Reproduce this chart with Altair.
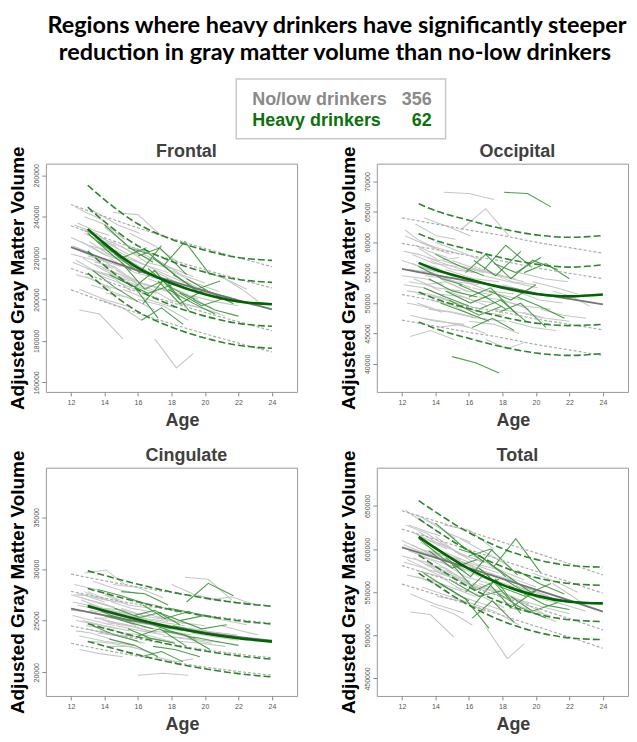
import altair as alt
import pandas as pd

# ---------------- text ----------------
TITLE_LINES = ["Regions where heavy drinkers have significantly steeper",
               "reduction in gray matter volume than no-low drinkers"]
LEGEND_LABELS = ["No/low drinkers", "Heavy drinkers"]
LEGEND_COUNTS = [356, 62]
X_TITLE = "Age"
Y_TITLE = "Adjusted Gray Matter Volume"

AGE_TICKS = [12, 14, 16, 18, 20, 22, 24]
GRAY_CURVE_AGES = [12, 14, 16, 18, 20, 22, 24]
GREEN_CURVE_AGES = [13, 14, 16, 18, 20, 22, 24]

# ---------------- subjects (visit ages) ----------------
GRAY_AGES = [
    [12.0, 13.1, 14.2], [12.1, 13.3, 14.6], [12.2, 13.5, 14.9], [12.3, 13.2, 14.4],
    [12.4, 13.8, 15.0], [12.5, 13.7, 15.1], [12.6, 13.9, 15.3], [12.7, 14.0, 15.5],
    [12.8, 14.1, 15.2], [12.9, 14.3, 15.6], [13.0, 14.2, 15.4], [13.1, 14.5, 15.8],
    [13.2, 14.4, 16.0], [13.3, 14.8, 16.1], [13.4, 14.6, 15.9], [13.5, 15.0, 16.3],
    [13.6, 14.9, 16.4], [13.8, 15.2, 16.6], [14.0, 15.4, 16.8], [14.1, 15.5, 17.0],
    [14.3, 15.8, 17.2], [14.5, 16.0, 17.5], [14.7, 16.2, 17.6], [15.0, 16.5, 18.0],
    [15.2, 16.8, 18.1], [15.5, 17.0, 18.4], [15.8, 17.2, 18.7], [16.0, 17.5, 19.0],
    [16.3, 17.8, 19.3], [16.6, 18.0, 19.6], [17.0, 18.3, 19.3], [17.2, 18.6, 20.0],
    [17.5, 19.0, 20.4], [18.0, 19.4, 20.8], [18.4, 19.8, 21.2], [18.8, 20.2, 21.6],
    [19.2, 20.6, 22.0], [19.8, 21.2, 22.5], [20.3, 21.6, 23.0], [12.2, 12.9, 14.0],
    [12.5, 14.0, 15.7], [13.0, 13.9, 15.0], [12.8, 13.6, 14.7], [13.7, 15.1, 16.2],
    [14.4, 15.6, 16.9], [21.0, 22.2, 23.2], [12.0, 13.4, 14.5], [13.9, 15.3, 16.7],
    [12.1, 13.0, 14.1], [12.3, 13.6, 14.8], [12.6, 13.4, 14.6], [12.9, 14.0, 15.1],
    [13.1, 14.2, 15.5], [13.4, 14.7, 16.1], [13.7, 15.0, 16.5], [14.2, 15.7, 17.1],
    [14.6, 16.3, 17.8], [15.1, 16.6, 18.2], [15.6, 17.1, 18.8], [16.2, 17.7, 19.2],
    [16.9, 18.4, 20.1], [17.8, 19.3, 20.9], [19.0, 20.5, 21.9], [12.4, 13.5, 14.3],
]
GREEN_AGES = [
    [13.0, 14.4, 15.6], [13.3, 14.6, 16.0], [13.6, 15.0, 16.5], [14.0, 15.5, 16.9],
    [14.3, 15.8, 17.2], [14.6, 16.1, 17.4], [15.0, 16.4, 17.8], [15.4, 16.7, 18.2],
    [15.8, 17.0, 18.5], [16.0, 17.3, 18.9], [16.3, 17.6, 19.1], [16.6, 17.9, 19.4],
    [16.9, 18.2, 19.7], [17.2, 18.5, 20.0], [17.5, 18.8, 20.3], [17.8, 19.1, 20.6],
    [18.1, 19.5, 20.9], [18.5, 19.8, 21.3], [18.9, 20.2, 21.7], [19.3, 20.6, 22.0],
    [16.2, 17.4, 18.7], [14.8, 16.6, 18.0],
]

# ---------------- Frontal (thousands) ----------------
FRONTAL_GRAY = [
    [230, 226, 221], [218, 214, 210], [236, 232, 224], [212, 210, 205], [224, 219, 216],
    [195, 193, 181], [228, 222, 218], [220, 214, 209], [240, 236, 229], [215, 212, 204],
    [233, 227, 222], [226, 223, 214], [207, 204, 199], [243, 236, 232], [218, 216, 208],
    [229, 221, 217], [212, 208, 203], [224, 218, 212], [235, 226, 222], [203, 201, 195],
    [220, 213, 210], [242, 241, 230], [214, 208, 205], [226, 218, 215], [209, 205, 199],
    [232, 226, 218], [217, 211, 207], [200, 197, 190], [222, 216, 211], [210, 206, 200],
    [181, 167, 174], [219, 212, 208], [205, 202, 196], [214, 208, 204], [198, 196, 192],
    [209, 203, 201], [202, 199, 197], [214, 210, 205], [203, 200, 197], [245, 242, 238],
    [205, 200, 196], [221, 219, 213], [232, 229, 226], [200, 196, 190], [228, 223, 219],
    [211, 205, 199], [222, 219, 215], [215, 211, 206],
    [226, 223, 219], [219, 213, 211], [234, 231, 227], [211, 207, 204], [228, 222, 218],
    [217, 213, 207], [225, 221, 214], [213, 207, 203], [224, 217, 213], [205, 200, 196],
    [220, 214, 208], [208, 204, 199], [214, 208, 203], [200, 197, 193], [207, 203, 200],
    [237, 233, 231],
]
FRONTAL_GREEN = [
    [232, 222, 214], [214, 206, 199], [228, 220, 225], [236, 225, 218], [212, 206, 191],
    [222, 213, 226], [218, 205, 210], [225, 222, 212], [206, 214, 200], [221, 225, 212],
    [198, 210, 194], [215, 206, 200], [220, 212, 203], [209, 198, 205], [216, 228, 212],
    [205, 199, 193], [212, 205, 209], [203, 197, 201], [210, 204, 198], [200, 195, 192],
    [190, 196, 188], [210, 203, 207],
]
FRONTAL_GRAY_MEAN = [225.3, 219.5, 214.0, 208.9, 204.1, 199.6, 195.3]
FRONTAL_GRAY_BANDS = [
    [245.9, 240.1, 234.6, 229.5, 224.7, 220.2, 215.9],
    [235.6, 229.8, 224.3, 219.2, 214.4, 209.9, 205.6],
    [215.0, 209.2, 203.7, 198.6, 193.8, 189.3, 185.0],
    [204.7, 198.9, 193.4, 188.3, 183.5, 179.0, 174.7],
]
FRONTAL_GREEN_MEAN = [234.0, 227.0, 215.3, 207.9, 202.6, 199.1, 197.7]
FRONTAL_GREEN_BANDS = [
    [255.2, 248.2, 236.5, 229.1, 223.8, 220.3, 218.9],
    [244.6, 237.6, 225.9, 218.5, 213.2, 209.7, 208.3],
    [223.4, 216.4, 204.7, 197.3, 192.0, 188.5, 187.1],
    [212.8, 205.8, 194.1, 186.7, 181.4, 177.9, 176.5],
]

# ---------------- Occipital (thousands) ----------------
OCCIPITAL_GRAY = [
    [57, 56, 55], [53, 52.5, 51], [61, 59.5, 58], [50, 49.5, 48.5], [55.5, 55, 53.5],
    [44.5, 45.5, 44], [58, 56.5, 56], [54, 52.5, 52], [63, 61, 60.5], [51.5, 51, 49.5],
    [59, 57, 57.5], [56, 55, 53.5], [47.5, 47, 46], [64, 62.5, 61], [53, 53.5, 52],
    [57.5, 56, 55], [49, 48.5, 47.5], [55, 53.5, 53], [60, 58.5, 57], [46, 46.5, 45],
    [54, 52, 51.5], [68.2, 68, 67], [52, 50.5, 50], [57, 55.5, 54.5], [49.5, 48.5, 48],
    [62, 65.5, 61], [53.5, 52, 51.5], [47, 46.5, 45], [56, 54.5, 53.5], [51, 50.5, 49],
    [44, 42.5, 43.5], [55, 53.5, 53], [49, 48.5, 47.5], [53, 52, 51], [47, 46, 45.5],
    [52, 50.5, 50], [48.5, 47.5, 47], [53.5, 52.5, 51.5], [49, 48, 47.5], [62, 60.5, 59],
    [48, 47, 46.5], [56.5, 56, 54.5], [59.5, 58.5, 57.5], [50.5, 49.5, 48], [57, 56, 55],
    [52, 51, 49.5], [54.5, 54, 53], [51, 50, 49],
    [58.5, 58, 57], [52, 51.5, 50.5], [56.5, 55.5, 55], [50, 49, 48.5], [60, 59, 58],
    [54.5, 54, 52.5], [57, 55.5, 55], [51.5, 51, 49.5], [55.5, 54, 53.5], [48.5, 47.5, 47],
    [56, 55, 54], [52.5, 51.5, 50.5], [54.5, 53.5, 52.5], [50.5, 49.5, 49], [55, 54, 53.5],
    [53.5, 53, 52],
]
OCCIPITAL_GREEN = [
    [56, 54, 53], [52.5, 51, 49.5], [54, 52, 51], [58, 56, 54.5], [50, 48.5, 47],
    [52, 50, 51.5], [41.2, 40.2, 38.5], [53, 51.5, 49], [55, 58, 54], [51, 52.5, 48],
    [57, 54.5, 58.5], [49, 50.5, 47], [55.5, 59.5, 56], [52, 50.5, 53], [56.5, 55, 57.5],
    [48.5, 50, 46], [68.2, 68, 65.8], [54, 57, 55.5], [51, 49.5, 47.5], [55, 56.5, 54],
    [46, 47.5, 45.5], [50.5, 48, 49.5],
]
OCCIPITAL_GRAY_MEAN = [55.6, 54.6, 53.6, 52.7, 51.6, 50.7, 49.8]
OCCIPITAL_GRAY_BANDS = [
    [64.0, 63.0, 62.0, 61.1, 60.0, 59.1, 58.2],
    [59.8, 58.8, 57.8, 56.9, 55.8, 54.9, 54.0],
    [51.4, 50.4, 49.4, 48.5, 47.4, 46.5, 45.6],
    [47.2, 46.2, 45.2, 44.3, 43.2, 42.3, 41.4],
]
OCCIPITAL_GREEN_MEAN = [56.6, 55.5, 53.9, 52.5, 51.5, 51.1, 51.4]
OCCIPITAL_GREEN_BANDS = [
    [66.3, 65.2, 63.6, 62.2, 61.2, 60.8, 61.1],
    [61.4, 60.3, 58.8, 57.4, 56.4, 55.9, 56.3],
    [51.8, 50.7, 49.1, 47.7, 46.7, 46.3, 46.5],
    [46.9, 45.8, 44.2, 42.8, 41.8, 41.4, 41.7],
]

# ---------------- Cingulate (thousands) ----------------
CINGULATE_GRAY = [
    [27.5, 27, 26.5], [25.5, 25, 24.5], [28.5, 28, 27], [24, 23.8, 23.2], [26.5, 26, 25.5],
    [22.2, 21.8, 21.5], [27, 26.2, 26], [25, 24.5, 24], [29.6, 29.9, 28.5], [24.5, 24.2, 23.5],
    [27.8, 27, 26.6], [26, 25.6, 24.8], [23, 22.8, 22.3], [28.8, 28, 27.6], [25.2, 25.3, 24.5],
    [26.8, 26, 25.5], [23.8, 23.5, 22.8], [26, 25.3, 24.8], [27.5, 26.5, 26.2], [22.5, 22.5, 21.8],
    [25.5, 24.8, 24.5], [28.5, 28.2, 27.2], [24.5, 24, 23.6], [26.2, 25.4, 25], [23.8, 23.5, 22.9],
    [27, 26.5, 25.8], [25, 24.4, 24], [19.7, 19.9, 19.7], [25.8, 25, 24.6], [24, 23.8, 23.2],
    [21.5, 21, 21.3], [25.4, 24.8, 24.5], [23.5, 23.2, 22.8], [28.5, 27.5, 27], [23, 22.8, 22.5],
    [29.2, 29, 27], [23.8, 23.4, 23.1], [25.5, 25, 24.6], [27, 27.3, 26.5], [27.5, 27.4, 26.8],
    [23.5, 23, 22.6], [26.5, 26.2, 25.6], [27.8, 27.2, 26.8], [24, 23.5, 22.8], [26.8, 26.2, 25.8],
    [24.5, 24, 23.6], [26, 25.8, 25.2], [25, 24.6, 24],
    [26.8, 26.5, 26], [25, 24.6, 24.2], [27.2, 26.8, 26.3], [24.2, 23.8, 23.4], [26.6, 26, 25.6],
    [25.3, 24.8, 24.3], [26.2, 25.8, 25.2], [24.8, 24.4, 23.8], [25.8, 25.2, 24.9], [23.6, 23.3, 22.9],
    [25.4, 24.9, 24.5], [24.4, 24, 23.6], [24.8, 24.4, 24], [23.5, 23.2, 22.9], [24.2, 23.9, 23.6],
    [27.6, 27.2, 26.9],
]
CINGULATE_GREEN = [
    [26.5, 25.5, 24.9], [24.5, 23.6, 23], [28, 27.4, 26.6], [25.5, 24.8, 24.2], [23.2, 22.6, 21.5],
    [26.2, 25.3, 25.8], [27.8, 27.6, 26.5], [24.2, 23.3, 22.8], [25.5, 26, 24.6], [23.5, 24.2, 22.5],
    [26.5, 25.2, 25.9], [24.8, 24, 23.3], [22.5, 22.2, 21.5], [25.8, 25, 25.5], [24, 23.6, 22.2],
    [26.2, 25.8, 25.3], [24.5, 24, 23.5], [25, 24.2, 24.6], [26.8, 28.6, 27.4], [23.4, 23, 22.6],
    [21.5, 22, 21], [25.2, 24.8, 24.2],
]
CINGULATE_GRAY_MEAN = [26.15, 25.5, 24.9, 24.35, 23.85, 23.42, 23.06]
CINGULATE_GRAY_BANDS = [
    [29.5, 28.85, 28.25, 27.7, 27.2, 26.77, 26.41],
    [27.82, 27.17, 26.57, 26.02, 25.52, 25.09, 24.73],
    [24.48, 23.83, 23.23, 22.68, 22.18, 21.75, 21.39],
    [22.8, 22.15, 21.55, 21.0, 20.5, 20.07, 19.71],
]
CINGULATE_GREEN_MEAN = [26.4, 25.95, 25.1, 24.35, 23.75, 23.28, 22.96]
CINGULATE_GREEN_BANDS = [
    [29.82, 29.37, 28.52, 27.77, 27.17, 26.7, 26.38],
    [28.1, 27.65, 26.8, 26.05, 25.45, 24.98, 24.66],
    [24.7, 24.25, 23.4, 22.65, 22.05, 21.58, 21.26],
    [22.98, 22.53, 21.68, 20.93, 20.33, 19.86, 19.54],
]

# ---------------- Total (thousands) ----------------
TOTAL_GRAY = [
    [610, 600, 590], [585, 578, 566], [628, 618, 600], [570, 566, 556], [598, 588, 580],
    [527, 524, 498], [605, 592, 582], [590, 576, 566], [640, 628, 612], [575, 568, 552],
    [620, 606, 596], [600, 592, 574], [556, 548, 538], [635, 618, 608], [582, 578, 562],
    [608, 590, 580], [565, 556, 545], [596, 582, 568], [615, 594, 586], [545, 540, 528],
    [586, 568, 560], [628, 622, 600], [572, 558, 550], [600, 582, 575], [556, 545, 532],
    [612, 596, 580], [580, 566, 556], [538, 528, 512], [592, 576, 564], [560, 550, 536],
    [510, 473, 490], [582, 566, 556], [548, 540, 526], [570, 555, 545], [532, 526, 516],
    [558, 543, 536], [540, 532, 525], [572, 562, 550], [545, 536, 528], [645, 636, 622],
    [548, 536, 526], [592, 586, 572], [618, 610, 600], [535, 525, 512], [606, 594, 584],
    [560, 545, 532], [592, 585, 574], [575, 565, 552],
    [605, 598, 590], [588, 576, 570], [620, 612, 604], [568, 560, 552], [608, 595, 588],
    [582, 574, 562], [598, 590, 576], [572, 562, 550], [596, 582, 572], [548, 538, 528],
    [585, 573, 562], [560, 550, 540], [568, 556, 546], [540, 532, 522], [556, 546, 538],
    [628, 620, 615],
]
TOTAL_GREEN = [
    [612, 590, 575], [572, 556, 540], [598, 578, 588], [630, 605, 585], [560, 542, 508],
    [590, 568, 600], [582, 552, 565], [600, 592, 568], [550, 572, 540], [592, 600, 570],
    [535, 565, 525], [578, 556, 545], [588, 570, 550], [560, 532, 552], [580, 612, 572],
    [548, 532, 520], [565, 548, 560], [545, 528, 538], [575, 560, 548], [548, 535, 530],
    [520, 540, 515], [565, 545, 552],
]
TOTAL_GRAY_MEAN = [601.9, 590.0, 578.0, 565.5, 553.0, 540.5, 527.5]
TOTAL_GRAY_BANDS = [
    [644.4, 632.5, 620.5, 608.0, 595.5, 583.0, 570.0],
    [623.1, 611.2, 599.2, 586.7, 574.2, 561.7, 548.7],
    [580.7, 568.8, 556.8, 544.3, 531.8, 519.3, 506.3],
    [559.4, 547.5, 535.5, 523.0, 510.5, 498.0, 485.0],
]
TOTAL_GREEN_MEAN = [614.1, 601.0, 577.0, 558.5, 546.0, 539.0, 537.0]
TOTAL_GREEN_BANDS = [
    [656.1, 643.0, 619.0, 600.5, 588.0, 581.0, 579.0],
    [635.1, 622.0, 598.0, 579.5, 567.0, 560.0, 558.0],
    [593.1, 580.0, 556.0, 537.5, 525.0, 518.0, 516.0],
    [572.1, 559.0, 535.0, 516.5, 504.0, 497.0, 495.0],
]

Y_DOMAINS = {
    "Frontal": [155400, 265600], "Occipital": [35400, 72900],
    "Cingulate": [17700, 39800], "Total": [429700, 694300],
}
Y_TICKS = {
    "Frontal": [160000, 180000, 200000, 220000, 240000, 260000],
    "Occipital": [40000, 45000, 50000, 55000, 60000, 65000, 70000],
    "Cingulate": [20000, 25000, 30000, 35000],
    "Total": [450000, 500000, 550000, 600000, 650000],
}

GRAY_LINE = "#c6c6c6"
GREEN_LINE = "#3a943a"
GRAY_MEAN_C = "#747474"
GREEN_MEAN_C = "#006400"
GRAY_DASH_C = "#ababab"
GREEN_DASH_C = "#2a862a"
AXIS_FONT = "Liberation Sans"
PW, PH = 252, 229

one = pd.DataFrame({"k": [0]})
hdr = alt.Chart(one)


def traj_df(ages_list, vals_list, prefix):
    rows = []
    for i, (ages, vals) in enumerate(zip(ages_list, vals_list)):
        for a, v in zip(ages, vals):
            rows.append({"id": f"{prefix}{i}", "age": a, "vol": v * 1000})
    return pd.DataFrame(rows)


def curve_df(ages, curves, prefix):
    rows = []
    for i, vals in enumerate(curves):
        for a, v in zip(ages, vals):
            rows.append({"id": f"{prefix}{i}", "age": a, "vol": v * 1000})
    return pd.DataFrame(rows)


def panel(name, gray, green, gmean, gbands, hmean, hbands, extra=()):
    x = alt.X("age:Q", scale=alt.Scale(domain=[10.5, 25.5], nice=False, zero=False),
              axis=alt.Axis(values=AGE_TICKS, title=None, grid=False, domain=False,
                            tickColor="#8a8a8a", tickSize=4, labelFontSize=7,
                            labelColor="#555555", labelFont=AXIS_FONT, labelPadding=3))
    y = alt.Y("vol:Q", scale=alt.Scale(domain=Y_DOMAINS[name], nice=False, zero=False),
              axis=alt.Axis(values=Y_TICKS[name], format="d", title=Y_TITLE,
                            grid=False, domain=False, tickColor="#8a8a8a", tickSize=4,
                            labelFontSize=7, labelColor="#555555", labelFont=AXIS_FONT,
                            labelAngle=270, labelAlign="center", labelBaseline="bottom",
                            labelPadding=2, titleFont=AXIS_FONT, titleFontSize=19,
                            titleFontWeight="bold", titleColor="#000000", titlePadding=5))
    enc = dict(x=x, y=y, detail="id:N")
    l_gray = alt.Chart(traj_df(GRAY_AGES, gray, "g")).mark_line(
        color=GRAY_LINE, strokeWidth=1.05, clip=True).encode(**enc)
    l_green = alt.Chart(traj_df(GREEN_AGES, green, "h")).mark_line(
        color=GREEN_LINE, strokeWidth=1.1, opacity=0.9, clip=True).encode(**enc)
    l_gband = alt.Chart(curve_df(GRAY_CURVE_AGES, gbands, "gb")).mark_line(
        color=GRAY_DASH_C, strokeWidth=1.2, strokeDash=[3, 2], interpolate="monotone").encode(**enc)
    l_gmean = alt.Chart(curve_df(GRAY_CURVE_AGES, [gmean], "gm")).mark_line(
        color=GRAY_MEAN_C, strokeWidth=1.8, interpolate="monotone").encode(**enc)
    l_hband = alt.Chart(curve_df(GREEN_CURVE_AGES, hbands, "hb")).mark_line(
        color=GREEN_DASH_C, strokeWidth=1.6, strokeDash=[7, 3], interpolate="monotone").encode(**enc)
    l_hmean = alt.Chart(curve_df(GREEN_CURVE_AGES, [hmean], "hm")).mark_line(
        color=GREEN_MEAN_C, strokeWidth=2.6, interpolate="monotone").encode(**enc)
    # panel title and x-axis title as annotations
    l_title = hdr.mark_text(font=AXIS_FONT, fontSize=18, fontWeight="bold", color="#404040",
                            align="center", baseline="alphabetic").encode(
        x=alt.value(PW / 2 + 15), y=alt.value(-7), text=alt.value(name))
    l_xt = hdr.mark_text(font=AXIS_FONT, fontSize=18, fontWeight="bold", color="#3c3c3c",
                         align="center", baseline="alphabetic").encode(
        x=alt.value(PW / 2 + 11), y=alt.value(PH + 34), text=alt.value(X_TITLE))
    return alt.layer(l_gray, l_green, l_gband, l_gmean, l_hband, l_hmean, l_title, l_xt,
                     *extra).properties(width=PW, height=PH)


# ---------------- header (figure title + legend box), drawn above the Frontal panel ----------------
title_font = dict(font="Lato", fontSize=23.5, fontWeight="bold", color="#000000",
                  align="center", baseline="alphabetic")
t1 = hdr.mark_text(**title_font).encode(x=alt.value(292), y=alt.value(-131),
                                          text=alt.value(TITLE_LINES[0]))
t2 = hdr.mark_text(**title_font).encode(x=alt.value(290), y=alt.value(-104),
                                          text=alt.value(TITLE_LINES[1]))
box = hdr.mark_rect(fill="white", stroke="#c8c8c8", strokeWidth=1.5).encode(
    x=alt.value(191), x2=alt.value(401), y=alt.value(-85), y2=alt.value(-25))
leg = []
for lab, cnt, col, yy in zip(LEGEND_LABELS, LEGEND_COUNTS, ["#8a8a8a", "#0b720b"], [-59, -38]):
    leg.append(hdr.mark_text(font=AXIS_FONT, fontSize=18, fontWeight="bold", color=col,
                             align="left", baseline="alphabetic").encode(
        x=alt.value(207), y=alt.value(yy), text=alt.value(lab)))
    leg.append(hdr.mark_text(font=AXIS_FONT, fontSize=18, fontWeight="bold", color=col,
                             align="right", baseline="alphabetic").encode(
        x=alt.value(387), y=alt.value(yy), text=alt.value(str(cnt))))

frontal = panel("Frontal", FRONTAL_GRAY, FRONTAL_GREEN, FRONTAL_GRAY_MEAN, FRONTAL_GRAY_BANDS,
                FRONTAL_GREEN_MEAN, FRONTAL_GREEN_BANDS, extra=[t1, t2, box] + leg)
occipital = panel("Occipital", OCCIPITAL_GRAY, OCCIPITAL_GREEN, OCCIPITAL_GRAY_MEAN,
                  OCCIPITAL_GRAY_BANDS, OCCIPITAL_GREEN_MEAN, OCCIPITAL_GREEN_BANDS)
cingulate = panel("Cingulate", CINGULATE_GRAY, CINGULATE_GREEN, CINGULATE_GRAY_MEAN,
                  CINGULATE_GRAY_BANDS, CINGULATE_GREEN_MEAN, CINGULATE_GREEN_BANDS)
total = panel("Total", TOTAL_GRAY, TOTAL_GREEN, TOTAL_GRAY_MEAN, TOTAL_GRAY_BANDS,
              TOTAL_GREEN_MEAN, TOTAL_GREEN_BANDS)

chart = alt.concat(frontal, occipital, cingulate, total, columns=2, bounds="flush",
                   spacing={"row": 76, "column": 80}).properties(
    padding={"top": 4, "left": 0, "right": 0, "bottom": 0}
).configure_view(stroke="#9a9a9a", strokeWidth=1)

chart.save("out.html", embed_options={"renderer": "svg", "actions": False})
